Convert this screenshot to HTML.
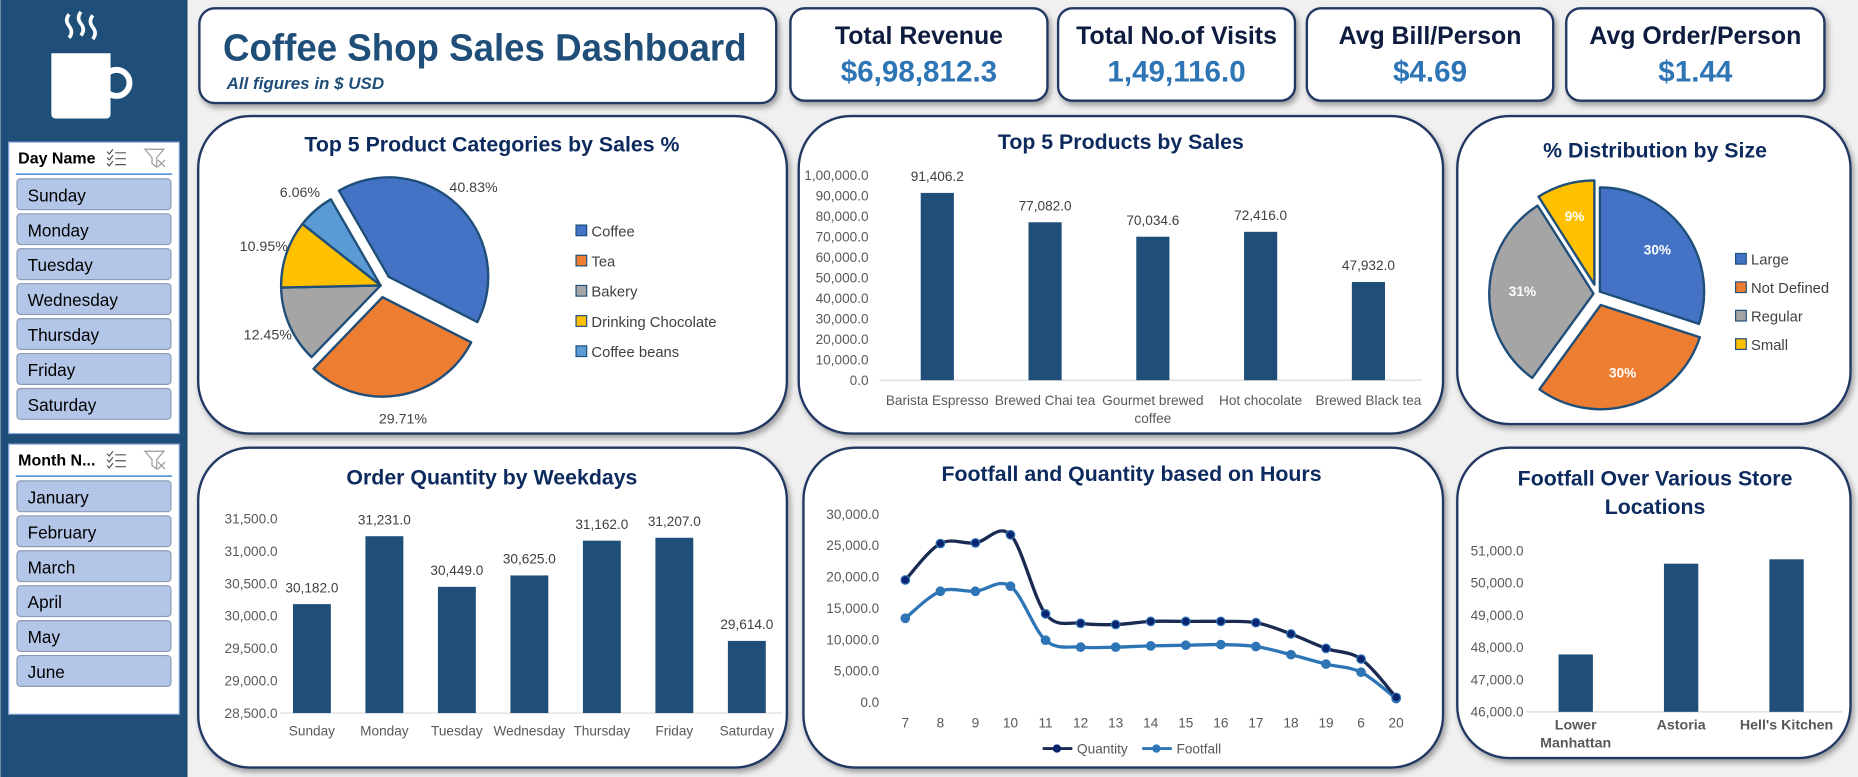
<!DOCTYPE html>
<html><head><meta charset="utf-8">
<style>
html,body{margin:0;padding:0;background:#f0f0f0;overflow:hidden}
svg{display:block}
text{font-family:"Liberation Sans",sans-serif}
</style></head>
<body>
<svg id="dash" width="1858" height="777" viewBox="0 0 1568 656" xmlns="http://www.w3.org/2000/svg">
<defs>
<filter id="sh" x="-10%" y="-10%" width="120%" height="125%"><feDropShadow dx="2" dy="3" stdDeviation="2.5" flood-color="#000" flood-opacity="0.35"/></filter>
</defs>
<rect x="0" y="0" width="1568" height="656" fill="#f0f0f0"/>
<!-- sidebar -->
<g>
<rect x="0" y="0" width="158" height="656" fill="#1f4e79"/>
<g fill="#fff" stroke="#fff">
<path d="M43 45 H93 V96 Q93 100 89 100 H47 Q43 100 43 96 Z" stroke="none"/>
<circle cx="98" cy="70" r="11" fill="none" stroke-width="5"/>
<path d="M58 12 q-4 5 0 10 q4 5 0 10" fill="none" stroke-width="3"/>
<path d="M68 10 q-4 5 0 10 q4 5 0 10" fill="none" stroke-width="3"/>
<path d="M78 13 q-4 5 0 10 q4 5 0 10" fill="none" stroke-width="3"/>
</g>
<g id="slicers"></g>
</g>
<!-- title card -->
<g>
<rect x="168" y="7" width="487" height="80" rx="13" fill="#fff" stroke="#203864" stroke-width="2" filter="url(#sh)"/>
<text x="188" y="51" font-size="32" font-weight="bold" fill="#1f4e79" textLength="442" lengthAdjust="spacingAndGlyphs">Coffee Shop Sales Dashboard</text>
<text x="191" y="75" font-size="14" font-weight="bold" font-style="italic" fill="#1f4e79" textLength="133" lengthAdjust="spacingAndGlyphs">All figures in $ USD</text>
</g>
<g id="kpis"></g>
<g id="panels"></g>
<g id="charts"></g>
</svg>
<script>
// ---------- data ----------
const dayNames = ["Sunday","Monday","Tuesday","Wednesday","Thursday","Friday","Saturday"];
const monthNames = ["January","February","March","April","May","June"];
const kpiLabels = ["Total Revenue","Total No.of Visits","Avg Bill/Person","Avg Order/Person"];
const kpiValues = ["$6,98,812.3","1,49,116.0","$4.69","$1.44"];

const catNames = ["Coffee","Tea","Bakery","Drinking Chocolate","Coffee beans"];
const catShares = [40.83,29.71,12.45,10.95,6.06];

const productNames = [["Barista Espresso"],["Brewed Chai tea"],["Gourmet brewed","coffee"],["Hot chocolate"],["Brewed Black tea"]];
const productSales = [91406.2,77082.0,70034.6,72416.0,47932.0];
const productTicks = ["0.0","10,000.0","20,000.0","30,000.0","40,000.0","50,000.0","60,000.0","70,000.0","80,000.0","90,000.0","1,00,000.0"];

const sizeNames = ["Large","Not Defined","Regular","Small"];
const sizeShares = [30,30,31,9];

const weekdayNames = ["Sunday","Monday","Tuesday","Wednesday","Thursday","Friday","Saturday"];
const weekdayQty = [30182,31231,30449,30625,31162,31207,29614];
const weekdayTicks = [28500,29000,29500,30000,30500,31000,31500];

const hourLabels = ["7","8","9","10","11","12","13","14","15","16","17","18","19","6","20"];
const hourQuantity = [19500,25300,25400,26700,14100,12600,12400,12900,12900,12900,12700,10900,8600,6900,800];
const hourFootfall = [13400,17700,17700,18500,9900,8800,8800,9000,9100,9200,8900,7600,6100,4800,600];
const hourTicks = [0,5000,10000,15000,20000,25000,30000];

const storeNames = [["Lower","Manhattan"],["Astoria"],["Hell's Kitchen"]];
const storeFootfall = [47782,50599,50735];
const storeTicks = [46000,47000,48000,49000,50000,51000];

// ---------- helpers ----------
const NS="http://www.w3.org/2000/svg";
function mk(tag, attrs, parent){const e=document.createElementNS(NS,tag);for(const k in attrs)e.setAttribute(k,attrs[k]);parent.appendChild(e);return e;}
function txt(str, attrs, parent){const e=mk("text",attrs,parent);e.textContent=str;return e;}
function fmt(v){ // indian grouping with one decimal
  let s=v.toFixed(1);let [i,d]=s.split(".");let last=i.slice(-3),rest=i.slice(0,-3);
  if(rest)rest=rest.replace(/\B(?=(\d{2})+(?!\d))/g,",")+",";return rest+last+"."+d;}
const BAR="#1f4e79", GREY="#595959";

// ---------- slicers ----------
const sl=document.getElementById("slicers");
function slicer(title, items, y0, h, name){
  const g=mk("g",{},sl);
  
  
  mk("rect",{x:7,y:y0,width:144,height:h,fill:"#fff",stroke:"#8ea9db","stroke-width":1},g);
  const t=txt(title,{x:15,y:y0+18,"font-size":13.5,"font-weight":"bold",fill:"#000"},g);
  
  
  const ms=mk("g",{stroke:"#555","stroke-width":1,fill:"none"},g);
  
  
  for(let k=0;k<3;k++){mk("path",{d:`M90 ${y0+8+k*5} l2 2 l3 -4 M97 ${y0+9+k*5} h9`},ms);}
  const cf=mk("path",{d:`M122 ${y0+6} h16 l-6 7 v8 l-4 -3 v-5 z M133 ${y0+15} l6 6 M139 ${y0+15} l-6 6`,stroke:"#999",fill:"none","stroke-width":1},g);
  
  
  mk("line",{x1:13,x2:145,y1:y0+27,y2:y0+27,stroke:"#5b9bd5","stroke-width":1.5},g);
  items.forEach((it,i)=>{
    const by=y0+31+i*29.5;
    const b=mk("g",{},g);
    
    
    mk("rect",{x:14,y:by,width:130,height:26,rx:3,fill:"#b4c6e7",stroke:"#8c9bb8","stroke-width":1},b);
    txt(it,{x:23,y:by+19,"font-size":14.5,fill:"#000"},b);
  });
}
slicer("Day Name",dayNames,120,246,"day-name-slicer");
slicer("Month N...",monthNames,375,228,"month-slicer");

// ---------- KPI cards ----------
const kp=document.getElementById("kpis");
const kpiBoxes=[[667,217],[893,200],[1103,208],[1322,218]];
kpiLabels.forEach((l,i)=>{
  const [x,w]=kpiBoxes[i];
  const g=mk("g",{},kp);
  
  
  mk("rect",{x:x,y:7,width:w,height:78,rx:12,fill:"#fff",stroke:"#203864","stroke-width":2,filter:"url(#sh)"},g);
  const a=txt(l,{x:x+w/2,y:37,"font-size":21,"font-weight":"bold",fill:"#0d1b3e","text-anchor":"middle"},g);
  
  
  const b=txt(kpiValues[i],{x:x+w/2,y:69,"font-size":25,"font-weight":"bold",fill:"#2e75b6","text-anchor":"middle"},g);
  
  
});

// ---------- panels ----------
const pn=document.getElementById("panels");
const panelBoxes=[[167,98,497,268,"top-categories-panel"],[674,98,544,268,"top-products-panel"],[1230,98,332,260,"size-distribution-panel"],
 [167,378,497,270,"weekday-orders-panel"],[678,378,540,270,"hourly-footfall-panel"],[1230,378,332,262,"store-footfall-panel"]];
panelBoxes.forEach(p=>{
  const r=mk("rect",{x:p[0],y:p[1],width:p[2],height:p[3],rx:44,fill:"#fff",stroke:"#203864","stroke-width":2,filter:"url(#sh)"},pn);
  
  
});
const ch=document.getElementById("charts");
function title(s,x,y,name){const t=txt(s,{x:x,y:y,"font-size":18,"font-weight":"bold",fill:"#0d2a5e","text-anchor":"middle"},ch);
  
  return t;}
title("Top 5 Product Categories by Sales %",415,128,"categories-chart-title");
title("Top 5 Products by Sales",946,126,"products-chart-title");
title("% Distribution by Size",1397,133,"size-chart-title");
title("Order Quantity by Weekdays",415,409,"weekday-chart-title");
title("Footfall and Quantity based on Hours",955,406,"hourly-chart-title");
title("Footfall Over Various Store",1397,410,"store-chart-title");
title("Locations",1397,434,"store-chart-title-line2");

// ---------- pies ----------
function pt(cx,cy,r,deg){const a=(deg-90)*Math.PI/180;return [cx+r*Math.cos(a),cy+r*Math.sin(a)];}
function pie(shares,colors,cx,cy,r,start,explode,g,names,labelFn){
  const tot=shares.reduce((a,b)=>a+b,0);let a0=start;
  shares.forEach((v,i)=>{
    const sw=v/tot*360,a1=a0+sw,mid=a0+sw/2,ex=explode[i]||0;
    const [ox,oy]=pt(0,0,ex,mid);const c=[cx+ox,cy+oy];
    const p0=pt(c[0],c[1],r,a0),p1=pt(c[0],c[1],r,a1);
    const s=mk("path",{d:`M${c[0]} ${c[1]} L${p0[0]} ${p0[1]} A${r} ${r} 0 ${sw>180?1:0} 1 ${p1[0]} ${p1[1]} Z`,fill:colors[i],stroke:"#1f4e79","stroke-width":2,"stroke-linejoin":"round"},g);
    
    
    labelFn(i,c,mid,v);
    a0=a1;
  });
}
const catColors=["#4472c4","#ed7d31","#a5a5a5","#ffc000","#5b9bd5"];
const g1=mk("g",{},ch);


pie(catShares,catColors,321,241,84,330,[10,10,0,0,0],g1,catNames,(i,c,mid,v)=>{
  const [lx,ly]=pt(c[0],c[1],104,mid);
  const l=txt(v.toFixed(2)+"%",{x:lx,y:ly+4,"font-size":12,fill:"#404040","text-anchor":"middle"},g1);
  
  
});
catNames.forEach((n,i)=>{
  const y=195+i*25.5;
  const e=mk("g",{},g1);
  
  
  mk("rect",{x:486,y:y-5,width:9,height:9,fill:catColors[i],stroke:"#1f4e79","stroke-width":1},e);
  txt(n,{x:499,y:y+4.5,"font-size":12.5,fill:"#404040"},e);
});
const sizeColors=["#4472c4","#ed7d31","#a5a5a5","#ffc000"];
const g3=mk("g",{},ch);


pie(sizeShares,sizeColors,1348,248,88,0,[3,10,3,8],g3,sizeNames,(i,c,mid,v)=>{
  const [lx,ly]=pt(c[0],c[1],60,mid);
  const l=txt(v+"%",{x:lx,y:ly+4,"font-size":11.5,"font-weight":"bold",fill:"#fff","text-anchor":"middle"},g3);
  
  
});
sizeNames.forEach((n,i)=>{
  const y=219+i*24;
  const e=mk("g",{},g3);
  
  
  mk("rect",{x:1465,y:y-5,width:9,height:9,fill:sizeColors[i],stroke:"#1f4e79","stroke-width":1},e);
  txt(n,{x:1478,y:y+4.5,"font-size":12.5,fill:"#404040"},e);
});

// ---------- bar chart helper ----------
function barChart(o){
  const g=mk("g",{},ch);
  
  
  const yS=v=>o.y0-(v-o.vmin)/(o.vmax-o.vmin)*(o.y0-o.y1);
  o.ticks.forEach((t,i)=>{
    const v=o.tickVals[i];
    const l=txt(t,{x:o.axisX,y:yS(v)+4,"font-size":11.5,fill:GREY,"text-anchor":"end"},g);
    
    
  });
  mk("line",{x1:o.plotL,x2:o.plotR,y1:o.y0,y2:o.y0,stroke:"#d9d9d9","stroke-width":1},g);
  o.values.forEach((v,i)=>{
    const cx=o.c0+i*o.step,y=yS(v);
    const b=mk("rect",{x:cx-o.bw/2,y:y,width:o.bw,height:o.y0-y,fill:BAR},g);
    
    
    if(o.showVals){const l=txt(fmt(v),{x:cx,y:y-10,"font-size":11.5,fill:"#404040","text-anchor":"middle"},g);
      
      }
    o.cats[i].forEach((line,k)=>{
      const l=txt(line,{x:cx,y:o.y0+o.catDy+k*15,"font-size":o.catBold?12:11.5,"font-weight":o.catBold?"bold":"normal",fill:GREY,"text-anchor":"middle"},g);
      
      
    });
  });
}
barChart({name:"products-bar-chart",values:productSales,cats:productNames,ticks:productTicks,tickVals:productTicks.map((t,i)=>i*10000),
  vmin:0,vmax:100000,y0:321,y1:148,axisX:733,plotL:742,plotR:1200,c0:791,step:91,bw:28,showVals:true,catDy:21});
barChart({name:"weekday-bar-chart",values:weekdayQty,cats:weekdayNames.map(d=>[d]),ticks:weekdayTicks.map(fmt),tickVals:weekdayTicks,
  vmin:28500,vmax:31500,y0:602,y1:438,axisX:234,plotL:236,plotR:660,c0:263,step:61.2,bw:32,showVals:true,catDy:19});
barChart({name:"store-bar-chart",values:storeFootfall,cats:storeNames,ticks:storeTicks.map(fmt),tickVals:storeTicks,
  vmin:46000,vmax:51000,y0:601,y1:465,axisX:1286,plotL:1288,plotR:1555,c0:1330,step:89,bw:29,showVals:false,catDy:15,catBold:true});

// ---------- line chart ----------
const gl=mk("g",{},ch);


const lY=v=>593-v/30000*(593-434);
const lX=i=>764+i*29.6;
hourTicks.forEach(t=>{
  const l=txt(fmt(t),{x:742,y:lY(t)+4,"font-size":11.5,fill:GREY,"text-anchor":"end"},gl);
  
  
});
hourLabels.forEach((h,i)=>{
  const l=txt(h,{x:lX(i),y:614,"font-size":11.5,fill:GREY,"text-anchor":"middle"},gl);
  
  
});
function smooth(pts){let d=`M${pts[0][0]} ${pts[0][1]}`;
  for(let i=0;i<pts.length-1;i++){const p0=pts[i-1]||pts[i],p1=pts[i],p2=pts[i+1],p3=pts[i+2]||p2;
    d+=` C${p1[0]+(p2[0]-p0[0])/6} ${p1[1]+(p2[1]-p0[1])/6} ${p2[0]-(p3[0]-p1[0])/6} ${p2[1]-(p3[1]-p1[1])/6} ${p2[0]} ${p2[1]}`;}
  return d;}
function series(vals,color,mfill,name){
  const pts=vals.map((v,i)=>[lX(i),lY(v)]);
  const p=mk("path",{d:smooth(pts),fill:"none",stroke:color,"stroke-width":2.8},gl);
  
  
  pts.forEach(q=>{const c=mk("circle",{cx:q[0],cy:q[1],r:3.6,fill:mfill,stroke:"#2e75b6","stroke-width":1},gl);
    
    });
}
series(hourFootfall,"#2e75b6","#2e75b6","footfall");
series(hourQuantity,"#1a2a52","#0b2470","quantity");
const lg=mk("g",{},gl);


mk("line",{x1:880,x2:905,y1:632,y2:632,stroke:"#1a2a52","stroke-width":2.5},lg);
mk("circle",{cx:892,cy:632,r:3.5,fill:"#0b2470"},lg);
txt("Quantity",{x:909,y:636,"font-size":11.5,fill:GREY},lg);
mk("line",{x1:964,x2:989,y1:632,y2:632,stroke:"#2e75b6","stroke-width":2.5},lg);
mk("circle",{cx:976,cy:632,r:3.5,fill:"#2e75b6"},lg);
txt("Footfall",{x:993,y:636,"font-size":11.5,fill:GREY},lg);
</script>
</body></html>
